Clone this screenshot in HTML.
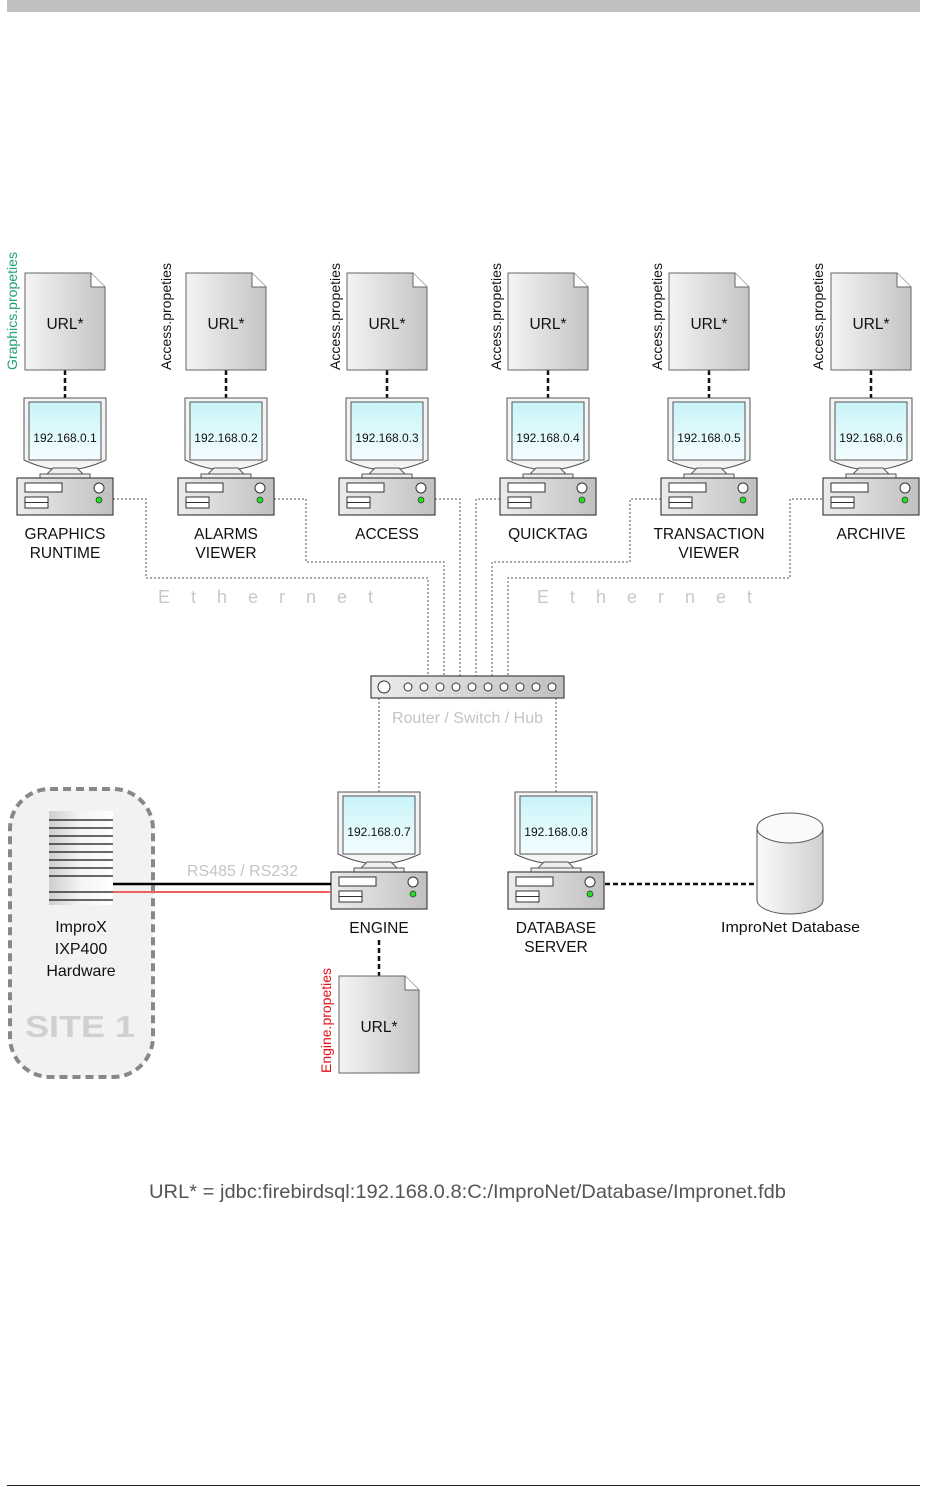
<!DOCTYPE html>
<html><head><meta charset="utf-8"><style>
html,body{margin:0;padding:0;background:#fff;}
svg{display:block;font-family:"Liberation Sans",sans-serif;}
</style></head><body>
<svg width="927" height="1487" viewBox="0 0 927 1487" xmlns="http://www.w3.org/2000/svg">
<defs>
<linearGradient id="gd" x1="0" y1="0" x2="1" y2="0"><stop offset="0" stop-color="#f4f4f4"/><stop offset="1" stop-color="#c4c4c4"/></linearGradient>
<linearGradient id="gs" x1="0" y1="0" x2="0" y2="1"><stop offset="0" stop-color="#c8f4f8"/><stop offset="1" stop-color="#f4fdff"/></linearGradient>
<linearGradient id="gb" x1="0" y1="0" x2="1" y2="0"><stop offset="0" stop-color="#ececec"/><stop offset="1" stop-color="#c0c0c0"/></linearGradient>
<linearGradient id="gh" x1="0" y1="0" x2="1" y2="0"><stop offset="0" stop-color="#cfcfcf"/><stop offset="0.5" stop-color="#f4f4f4"/><stop offset="1" stop-color="#fff"/></linearGradient>
<linearGradient id="gc" x1="0" y1="0" x2="1" y2="0"><stop offset="0" stop-color="#fafafa"/><stop offset="1" stop-color="#d0d0d0"/></linearGradient>
<g id="ws">
 <path d="M-41,0 H41 V62 Q20,72 0,72 Q-20,72 -41,62 Z" fill="#f4f4f4" stroke="#555" stroke-width="1"/>
 <rect x="-36" y="4" width="72" height="58" fill="url(#gs)" stroke="#555" stroke-width="1"/>
 <path d="M-18,76 L-12,70 H12 L18,76" fill="#eee" stroke="#555"/>
 <rect x="-25" y="76" width="50" height="4" fill="#eee" stroke="#555"/>
 <rect x="-48" y="80" width="96" height="37" fill="url(#gb)" stroke="#444" stroke-width="1.2"/>
 <rect x="-40" y="85" width="37" height="9" fill="#fff" stroke="#333"/>
 <rect x="-40" y="99" width="23" height="11" fill="#fff" stroke="#333"/>
 <line x1="-40" y1="104.5" x2="-17" y2="104.5" stroke="#333"/>
 <circle cx="34" cy="90" r="5" fill="#fff" stroke="#333"/>
 <circle cx="34" cy="102" r="3" fill="#22dd22" stroke="#333" stroke-width="0.7"/>
</g>
<g id="doc">
 <path d="M-40,0 H26 L40,14 V97 H-40 Z" fill="url(#gd)" stroke="#666"/>
 <path d="M26,0 V14 H40" fill="#fff" stroke="#666"/>
</g>
</defs>

<rect x="7" y="0" width="913" height="12" fill="#c0c0c0"/>
<line x1="7" y1="1485.5" x2="920" y2="1485.5" stroke="#222" stroke-width="1"/>

<g fill="none" stroke="#555" stroke-width="1" stroke-dasharray="2,2">
 <path d="M113,499 H146 V578 H428 V676"/>
 <path d="M274,499 H306 V562 H444 V676"/>
 <path d="M435,499 H460 V676"/>
 <path d="M500,499 H476 V676"/>
 <path d="M661,499 H630 V562 H492 V676"/>
 <path d="M822,499 H790 V578 H508 V676"/>
 <path d="M379,698 V792"/>
 <path d="M556,698 V792"/>
</g>
<text x="158" y="603" font-size="18" fill="#c8c8c8" letter-spacing="21">Ethernet</text>
<text x="537" y="603" font-size="18" fill="#c8c8c8" letter-spacing="21">Ethernet</text>

<g stroke="#111" stroke-width="2.5" stroke-dasharray="5,3">
 <line x1="65" y1="370" x2="65" y2="398"/><line x1="226" y1="370" x2="226" y2="398"/>
 <line x1="387" y1="370" x2="387" y2="398"/><line x1="548" y1="370" x2="548" y2="398"/>
 <line x1="709" y1="370" x2="709" y2="398"/><line x1="871" y1="370" x2="871" y2="398"/>
 <line x1="379" y1="940" x2="379" y2="976"/>
 <line x1="605" y1="884" x2="757" y2="884"/>
</g>
<use href="#doc" x="65" y="273"/><use href="#doc" x="226" y="273"/><use href="#doc" x="387" y="273"/>
<use href="#doc" x="548" y="273"/><use href="#doc" x="709" y="273"/><use href="#doc" x="871" y="273"/>
<use href="#doc" x="379" y="976"/>
<use href="#ws" x="65" y="398"/><use href="#ws" x="226" y="398"/><use href="#ws" x="387" y="398"/>
<use href="#ws" x="548" y="398"/><use href="#ws" x="709" y="398"/><use href="#ws" x="871" y="398"/>
<use href="#ws" x="379" y="792"/><use href="#ws" x="556" y="792"/>

<g font-size="15.5" text-anchor="middle" fill="#111">
 <text x="65" y="329">URL*</text><text x="226" y="329">URL*</text><text x="387" y="329">URL*</text>
 <text x="548" y="329">URL*</text><text x="709" y="329">URL*</text><text x="871" y="329">URL*</text>
 <text x="379" y="1032">URL*</text>
</g>
<g font-size="12" text-anchor="middle" fill="#111">
 <text x="65" y="442">192.168.0.1</text><text x="226" y="442">192.168.0.2</text><text x="387" y="442">192.168.0.3</text>
 <text x="548" y="442">192.168.0.4</text><text x="709" y="442">192.168.0.5</text><text x="871" y="442">192.168.0.6</text>
 <text x="379" y="836">192.168.0.7</text><text x="556" y="836">192.168.0.8</text>
</g>
<g font-size="15.5" text-anchor="middle" fill="#111">
 <text x="65" y="539">GRAPHICS</text><text x="65" y="558">RUNTIME</text>
 <text x="226" y="539">ALARMS</text><text x="226" y="558">VIEWER</text>
 <text x="387" y="539">ACCESS</text>
 <text x="548" y="539">QUICKTAG</text>
 <text x="709" y="539">TRANSACTION</text><text x="709" y="558">VIEWER</text>
 <text x="871" y="539">ARCHIVE</text>
 <text x="379" y="933">ENGINE</text>
 <text x="556" y="933">DATABASE</text><text x="556" y="952">SERVER</text>
</g>
<g font-size="14">
 <text transform="translate(17,370) rotate(-90)" fill="#1a9f7a" textLength="118" lengthAdjust="spacingAndGlyphs">Graphics.propeties</text>
 <text transform="translate(171,370) rotate(-90)" fill="#111" textLength="107" lengthAdjust="spacingAndGlyphs">Access.propeties</text>
 <text transform="translate(340,370) rotate(-90)" fill="#111" textLength="107" lengthAdjust="spacingAndGlyphs">Access.propeties</text>
 <text transform="translate(501,370) rotate(-90)" fill="#111" textLength="107" lengthAdjust="spacingAndGlyphs">Access.propeties</text>
 <text transform="translate(662,370) rotate(-90)" fill="#111" textLength="107" lengthAdjust="spacingAndGlyphs">Access.propeties</text>
 <text transform="translate(823,370) rotate(-90)" fill="#111" textLength="107" lengthAdjust="spacingAndGlyphs">Access.propeties</text>
 <text transform="translate(331,1073) rotate(-90)" fill="#e0101a" textLength="105" lengthAdjust="spacingAndGlyphs">Engine.propeties</text>
</g>

<rect x="371" y="676" width="193" height="22" fill="url(#gb)" stroke="#444" stroke-width="1.2"/>
<circle cx="384" cy="687" r="6" fill="#fff" stroke="#333"/>
<g fill="#fff" stroke="#333">
 <circle cx="408" cy="687" r="4"/><circle cx="424" cy="687" r="4"/><circle cx="440" cy="687" r="4"/>
 <circle cx="456" cy="687" r="4"/><circle cx="472" cy="687" r="4"/><circle cx="488" cy="687" r="4"/>
 <circle cx="504" cy="687" r="4"/><circle cx="520" cy="687" r="4"/><circle cx="536" cy="687" r="4"/>
 <circle cx="552" cy="687" r="4"/>
</g>
<text x="392" y="723" font-size="15.5" fill="#c4c4c4" textLength="151" lengthAdjust="spacingAndGlyphs">Router / Switch / Hub</text>

<path d="M757,828 V900 A33,14 0 0 0 823,900 V828" fill="url(#gc)" stroke="#555"/>
<ellipse cx="790" cy="828" rx="33" ry="15" fill="#fafafa" stroke="#555"/>
<text x="721" y="932" font-size="14.5" fill="#111" textLength="139" lengthAdjust="spacingAndGlyphs">ImproNet Database</text>

<rect x="10" y="789" width="143" height="288" rx="40" fill="#f2f2f2" stroke="#888" stroke-width="4" stroke-dasharray="8,5"/>
<rect x="49" y="811" width="64" height="94" fill="url(#gh)"/>
<g stroke="#111" stroke-width="1.2">
 <line x1="49" y1="820" x2="113" y2="820"/><line x1="49" y1="828" x2="113" y2="828"/>
 <line x1="49" y1="836" x2="113" y2="836"/><line x1="49" y1="844" x2="113" y2="844"/>
 <line x1="49" y1="852" x2="113" y2="852"/><line x1="49" y1="860" x2="113" y2="860"/>
 <line x1="49" y1="868" x2="113" y2="868"/><line x1="49" y1="876" x2="113" y2="876"/>
 <line x1="49" y1="892" x2="113" y2="892"/><line x1="49" y1="900" x2="113" y2="900"/>
</g>
<line x1="113" y1="884" x2="331" y2="884" stroke="#000" stroke-width="2.5"/>
<line x1="113" y1="892" x2="331" y2="892" stroke="#f06060" stroke-width="2"/>
<text x="187" y="876" font-size="15.5" fill="#c4c4c4" textLength="111" lengthAdjust="spacingAndGlyphs">RS485 / RS232</text>
<g font-size="16" text-anchor="middle" fill="#111">
 <text x="81" y="932">ImproX</text><text x="81" y="954">IXP400</text><text x="81" y="976">Hardware</text>
</g>
<text x="25" y="1037" font-size="31" font-weight="bold" fill="#d0d0d0" textLength="110" lengthAdjust="spacingAndGlyphs">SITE 1</text>

<text x="149" y="1198" font-size="19.5" fill="#555" textLength="637" lengthAdjust="spacingAndGlyphs">URL* = jdbc:firebirdsql:192.168.0.8:C:/ImproNet/Database/Impronet.fdb</text>
</svg>
</body></html>
